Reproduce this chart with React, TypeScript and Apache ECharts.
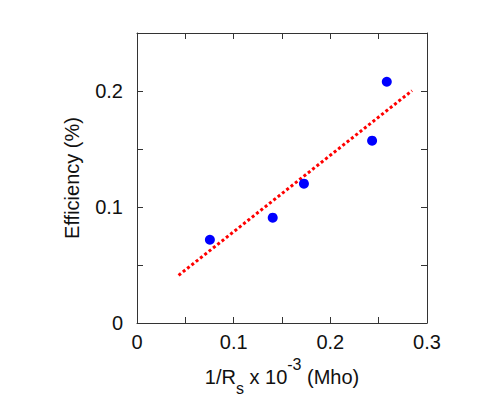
import React, { useEffect, useRef } from "react";
import * as echarts from "echarts";

const pointsX = [0.0754, 0.1404, 0.1727, 0.2432, 0.2584];
const pointsY = [0.0718, 0.0908, 0.1201, 0.1572, 0.208];
const fitX = [0.043, 0.2845];
const fitY = [0.0411, 0.2003];
const xTicks = [0, 0.1, 0.2, 0.3];
const yTicks = [0, 0.1, 0.2];

const FONT = "Liberation Sans";
const AXIS_COLOR = "#333";

function isLabeled(v: number, list: number[]) {
  return list.some((t) => Math.abs(t - v) < 1e-9);
}

export default function App() {
  const ref = useRef<HTMLDivElement>(null);
  useEffect(() => {
    if (!ref.current) return;
    const chart = echarts.init(ref.current, null, { renderer: "svg" });
    const axisCommon = {
      axisLine: { show: true, onZero: false, lineStyle: { color: AXIS_COLOR, width: 1 } },
      axisTick: { show: true, inside: true, length: 6, lineStyle: { color: AXIS_COLOR, width: 1 } },
      splitLine: { show: false },
    };
    chart.setOption({
      animation: false,
      grid: { left: 137, right: 51, top: 33, bottom: 92, containLabel: false },
      xAxis: [
        {
          ...axisCommon,
          type: "value",
          min: 0,
          max: 0.3,
          interval: 0.05,
          position: "bottom",
          name: "1/R{sub|s} x 10{sup|-3} (Mho)",
          nameLocation: "middle",
          nameGap: 28,
          nameTextStyle: {
            fontFamily: FONT,
            fontSize: 20,
            color: "#111",
            lineHeight: 40,
            rich: {
              sub: { fontFamily: FONT, fontSize: 16, color: "#111", lineHeight: 32, verticalAlign: "bottom" },
              sup: { fontFamily: FONT, fontSize: 16, color: "#111", lineHeight: 18, verticalAlign: "top" },
            },
          },
          axisLabel: {
            margin: 9,
            fontFamily: FONT,
            fontSize: 20,
            color: "#111",
            formatter: (v: number) => (isLabeled(v, xTicks) ? String(Math.round(v * 10) / 10) : ""),
          },
        },
        {
          ...axisCommon,
          type: "value",
          min: 0,
          max: 0.3,
          interval: 0.05,
          position: "top",
          axisLabel: { show: false },
        },
      ],
      yAxis: [
        {
          ...axisCommon,
          type: "value",
          min: 0,
          max: 0.25,
          interval: 0.05,
          position: "left",
          name: "Efficiency (%)",
          nameLocation: "middle",
          nameGap: 55,
          nameTextStyle: { fontFamily: FONT, fontSize: 20, color: "#111" },
          axisLabel: {
            margin: 14,
            fontFamily: FONT,
            fontSize: 20,
            color: "#111",
            formatter: (v: number) => (isLabeled(v, yTicks) ? String(Math.round(v * 10) / 10) : ""),
          },
        },
        {
          ...axisCommon,
          type: "value",
          min: 0,
          max: 0.25,
          interval: 0.05,
          position: "right",
          axisLabel: { show: false },
        },
      ],
      series: [
        {
          type: "line",
          data: fitX.map((x, i) => [x, fitY[i]]),
          showSymbol: false,
          symbol: "none",
          lineStyle: { color: "#ff0000", width: 3, type: [3, 2.5] },
          z: 2,
        },
        {
          type: "scatter",
          data: pointsX.map((x, i) => [x, pointsY[i]]),
          symbol: "circle",
          symbolSize: 10,
          itemStyle: { color: "#0000ff", opacity: 1 },
          z: 3,
        },
      ],
    });
    return () => chart.dispose();
  }, []);
  return (
    <div
      ref={ref}
      style={{ position: "absolute", left: 0, top: 0, width: 478, height: 415, background: "#fff" }}
    />
  );
}
